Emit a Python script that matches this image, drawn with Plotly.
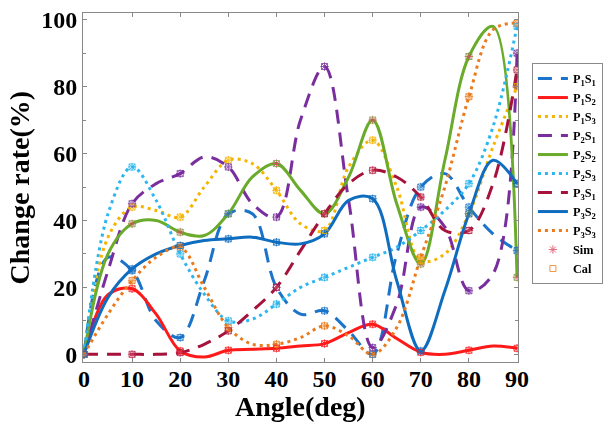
import plotly.graph_objects as go

angles = [0, 5, 10, 15, 20, 25, 30, 35, 40, 45, 50, 55, 60, 65, 70, 75, 80, 85, 90]

p1s1 = [0, 29, 25, 10, 5, 22, 42, 42, 20, 12, 13, 7, 0, 30, 50, 54, 44, 36, 31]
p1s2 = [0, 17.8, 19.6, 12, 1, -0.8, 1.2, 1.5, 1.8, 2.5, 3.2, 6.5, 9, 4.7, 0.6, 0, 1.2, 2.5, 1.8]
p1s3 = [0, 35, 44, 43, 41, 50, 58, 57, 49, 39, 37, 56, 64, 50, 28, 30, 42, 62, 80]
p2s1 = [0, 25, 45, 51, 54, 59, 56, 45, 41, 70, 86, 46, 2, 15, 44, 38, 19, 24, 90]
p2s2 = [0, 30, 39, 40, 36.5, 35.5, 42, 53, 57, 49, 42, 53, 70, 45, 27, 58, 89, 98, 23]
p2s3 = [0, 42, 56, 46, 30, 18, 10, 10.5, 15, 20, 23, 26, 29, 32, 37, 43, 51, 68, 98]
p3s1 = [0, 0, 0, 0, 0.5, 3, 7, 13, 20, 31, 42, 51, 55, 53, 47, 37, 37, 51, 85]
p3s2 = [0, 17, 25.5, 30, 32.5, 34, 34.5, 35, 33.5, 33, 36, 46, 46.5, 22, 1, 19, 42, 58, 51]
p3s3 = [0, 12, 22, 29, 32, 20, 8, 3, 3, 5, 8.5, 5.5, 0, 8, 29, 50, 77, 97, 99]

names = ["P<sub>1</sub>S<sub>1</sub>", "P<sub>1</sub>S<sub>2</sub>", "P<sub>1</sub>S<sub>3</sub>",
         "P<sub>2</sub>S<sub>1</sub>", "P<sub>2</sub>S<sub>2</sub>", "P<sub>2</sub>S<sub>3</sub>",
         "P<sub>3</sub>S<sub>1</sub>", "P<sub>3</sub>S<sub>2</sub>", "P<sub>3</sub>S<sub>3</sub>"]
series = [p1s1, p1s2, p1s3, p2s1, p2s2, p2s3, p3s1, p3s2, p3s3]
colors = ["#1b74c9", "#ff1a1a", "#f5b400", "#7a2e9e", "#6aab2b", "#2bb6ef", "#a5123c", "#0f6dbf", "#ea7a1c"]
dashes = ["14px,9px", "solid", "3px,4px", "14px,9px", "solid", "3px,4px", "14px,9px", "solid", "3px,4px"]

fig = go.Figure()
for name, ys, c, d in zip(names, series, colors, dashes):
    fig.add_trace(go.Scatter(x=angles, y=ys, mode="lines", name=name,
                             line=dict(color=c, width=3, dash=d, shape="spline", smoothing=1.0)))

# marker traces at the 10-degree sample angles
sim_colors = ["#1b74c9", "#ff1a1a", "#f5b400", "#7a2e9e", "#d9465f", "#2bb6ef", "#d9465f", "#0f6dbf", "#ea7a1c"]
sim_order = [4, 0, 1, 2, 3, 5, 6, 7, 8]
cal_order = [8, 0, 1, 2, 3, 4, 5, 6, 7]
sim_x, sim_y, sim_c = [], [], []
cal_x, cal_y, cal_c = [], [], []
for i in sim_order:
    sim_x += angles[::2]
    sim_y += series[i][::2]
    sim_c += [sim_colors[i]] * len(angles[::2])
for i in cal_order:
    cal_x += angles[::2]
    cal_y += series[i][::2]
    cal_c += [colors[i]] * len(angles[::2])

fig.add_trace(go.Scatter(x=sim_x, y=sim_y, mode="markers", name="Sim", opacity=0.8,
                         marker=dict(symbol="asterisk-open", size=7, color=sim_c, line=dict(width=1, color=sim_c))))
fig.add_trace(go.Scatter(x=cal_x, y=cal_y, mode="markers", name="Cal", opacity=0.8,
                         marker=dict(symbol="square-open", size=6, color=cal_c, line=dict(width=1, color=cal_c))))

font_family = "Liberation Serif"
fig.update_layout(
    width=614, height=425,
    margin=dict(l=83, r=96, t=7, b=63),
    paper_bgcolor="white", plot_bgcolor="white",
    font=dict(family=font_family, color="black"),
    showlegend=True,
    legend=dict(x=1.032, y=0.54, xanchor="left", yanchor="middle",
                font=dict(family=font_family, size=12.3, color="black", weight="bold"),
                bordercolor="#8a8a8a", borderwidth=1, bgcolor="white", itemwidth=30),
    xaxis=dict(range=[-0.2, 90.2], tickvals=[0, 10, 20, 30, 40, 50, 60, 70, 80, 90],
               ticks="inside", ticklen=4, tickcolor="#888", showline=True, linecolor="#888",
               linewidth=1, mirror="ticks", showgrid=False, zeroline=False, ticklabelstandoff=-5,
               tickfont=dict(family=font_family, size=24, color="black", weight="bold")),
    yaxis=dict(range=[-2.3, 102], tickvals=[0, 20, 40, 60, 80, 100],
               ticks="inside", ticklen=4, tickcolor="#888", showline=True, linecolor="#888",
               linewidth=1, mirror="ticks", showgrid=False, zeroline=False,
               minor=dict(tickvals=[10, 30, 50, 70, 90], ticks="inside", ticklen=3, tickcolor="#888"),
               tickfont=dict(family=font_family, size=24, color="black", weight="bold")),
    annotations=[
        dict(text="Angle(deg)", xref="paper", yref="paper", x=0.5, y=-0.127, xanchor="center", yanchor="middle",
             showarrow=False, font=dict(family=font_family, size=28, color="black", weight="bold")),
        dict(text="Change rate(%)", xref="paper", yref="paper", x=-0.145, y=0.5, xanchor="center", yanchor="middle",
             textangle=-90, showarrow=False, font=dict(family=font_family, size=28, color="black", weight="bold")),
    ],
)

fig.write_html("out.html")
